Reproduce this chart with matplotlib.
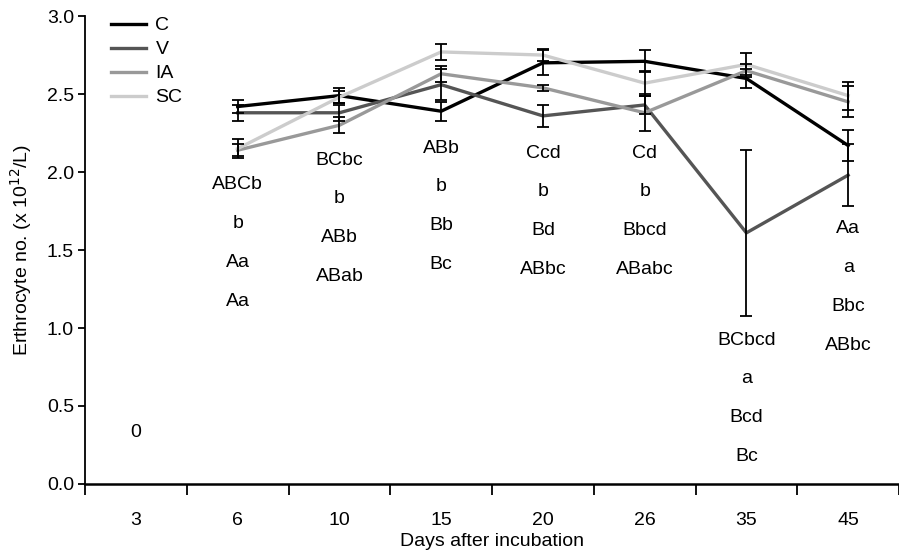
import matplotlib.pyplot as plt
import numpy as np

plt.rcParams['font.family'] = ['Liberation Sans', 'DejaVu Sans']

days = ['3', '6', '10', '15', '20', '26', '35', '45']
groups = ['C', 'V', 'IA', 'SC']
colors = ['#000000', '#555555', '#999999', '#cccccc']

# means from day 6 on (day 3 has no data)
c_mean = [2.42, 2.49, 2.39, 2.70, 2.71, 2.60, 2.17]
v_mean = [2.38, 2.38, 2.56, 2.36, 2.43, 1.61, 1.98]
ia_mean = [2.14, 2.30, 2.63, 2.54, 2.38, 2.65, 2.45]
sc_mean = [2.15, 2.48, 2.77, 2.75, 2.57, 2.69, 2.49]

c_err = [0.04, 0.05, 0.06, 0.08, 0.07, 0.06, 0.10]
v_err = [0.05, 0.05, 0.10, 0.07, 0.06, 0.53, 0.20]
ia_err = [0.04, 0.05, 0.05, 0.02, 0.12, 0.04, 0.10]
sc_err = [0.06, 0.04, 0.05, 0.04, 0.08, 0.07, 0.09]

letters = [
    ['0'],
    ['ABCb', 'b', 'Aa', 'Aa'],
    ['BCbc', 'b', 'ABb', 'ABab'],
    ['ABb', 'b', 'Bb', 'Bc'],
    ['Ccd', 'b', 'Bd', 'ABbc'],
    ['Cd', 'b', 'Bbcd', 'ABabc'],
    ['BCbcd', 'a', 'Bcd', 'Bc'],
    ['Aa', 'a', 'Bbc', 'ABbc'],
]
letter_top = [0.333, 1.917, 2.077, 2.154, 2.122, 2.122, 0.923, 1.635]

fs = 14

fig = plt.figure(figsize=(8.99, 5.54), dpi=100)
ax = fig.add_axes([0.0946, 0.1264, 0.9054, 0.8446])

x = np.arange(1, len(days))
means = [c_mean, v_mean, ia_mean, sc_mean]
errs = [c_err, v_err, ia_err, sc_err]
for g, m, e, col in zip(groups, means, errs, colors):
    ax.plot(x, m, color=col, lw=2.4, label=g, zorder=3)
    ax.errorbar(x, m, yerr=e, fmt='none', ecolor='black', elinewidth=1.3,
                capsize=4, capthick=1.3, zorder=4)

step = 0.248
for i, labs in enumerate(letters):
    for j, s in enumerate(labs):
        ax.text(i, letter_top[i] - j * step, s, ha='center', va='center',
                fontsize=fs)

ax.set_xlim(-0.5, 7.42)
ax.set_ylim(0, 3.0)
ax.set_yticks(np.arange(0, 3.01, 0.5))
ax.set_yticklabels([f'{v:.1f}' for v in np.arange(0, 3.01, 0.5)])
ax.set_xticks(np.arange(-0.5, 7.6, 1.0))
ax.set_xticklabels([])
ax.set_xticks(np.arange(len(days)), minor=True)
ax.set_xticklabels(days, minor=True)
ax.tick_params(axis='x', which='major', direction='out', length=8, width=1.3)
ax.tick_params(axis='x', which='minor', length=0, pad=20, labelsize=fs)
ax.tick_params(axis='y', direction='out', length=5, width=1.3, labelsize=fs,
               pad=3)

for s in ['top', 'right']:
    ax.spines[s].set_visible(False)
ax.spines['left'].set_linewidth(1.3)
ax.spines['bottom'].set_linewidth(1.8)

ax.set_xlabel('Days after incubation', fontsize=fs, labelpad=3)
ax.set_ylabel(r'Erthrocyte no. (x 10$^{12}$/L)', fontsize=fs, labelpad=9)

ax.legend(loc='upper left', bbox_to_anchor=(0.022, 1.014), frameon=False,
          fontsize=fs, handlelength=1.8, handletextpad=0.5,
          labelspacing=0.36, borderaxespad=0, handleheight=0.6)

fig.savefig('out.png', dpi=100)
